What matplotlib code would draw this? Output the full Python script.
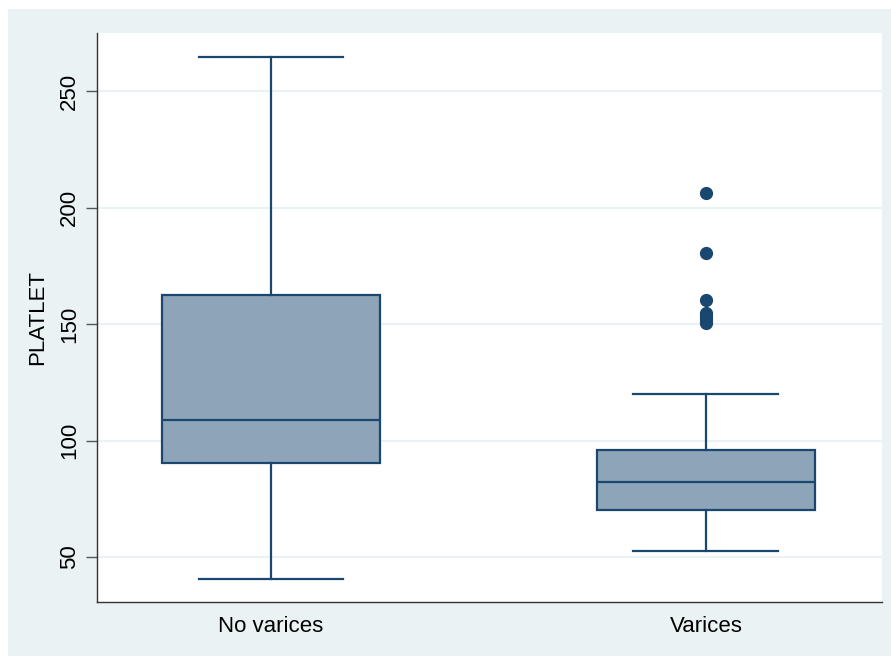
import matplotlib
matplotlib.use("Agg")
import matplotlib.pyplot as plt
import matplotlib.patches as mpatches

plt.rcParams['font.family'] = ['Liberation Sans', 'DejaVu Sans']

# box statistics
groups = ['No varices', 'Varices']
q1 = [90.3, 70.2]
med = [108.8, 82.2]
q3 = [162.4, 95.9]
whislo = [40.5, 52.5]
whishi = [264.8, 120.0]
outliers = [[], [206.2, 180.5, 160.3, 154.7, 153.5, 152.6, 151.5, 150.4]]

navy = '#1a476f'
fill = '#8ea5b9'
bg = '#eaf2f3'

fig = plt.figure(figsize=(8.91, 6.57), dpi=100)
fig.patch.set_facecolor('white')
# light outer panel of the graph region
fig.patches.append(mpatches.Rectangle((8 / 891, 1 - 656 / 657), 1 - 8 / 891, (656 - 9) / 657,
                                      transform=fig.transFigure, facecolor=bg,
                                      edgecolor='none', zorder=-10))

ax = fig.add_axes([97 / 891, 1 - 602 / 657, (882 - 97) / 891, (602 - 33) / 657])
ax.set_facecolor('white')

stats = []
for i in range(len(groups)):
    stats.append(dict(label=groups[i], q1=q1[i], med=med[i], q3=q3[i],
                      whislo=whislo[i], whishi=whishi[i], fliers=outliers[i]))

ax.bxp(stats, positions=[1, 2], widths=0.5, patch_artist=True, showfliers=True,
       boxprops=dict(facecolor=fill, edgecolor=navy, linewidth=1.6),
       medianprops=dict(color=navy, linewidth=1.6),
       whiskerprops=dict(color=navy, linewidth=1.6),
       capprops=dict(color=navy, linewidth=1.6),
       capwidths=0.333,
       flierprops=dict(marker='o', markerfacecolor=navy, markeredgecolor=navy,
                       markersize=8.5, linestyle='none'))

ax.set_xlim(0.6, 2.405)
ax.set_ylim(30.7, 274.9)
ax.set_yticks([50, 100, 150, 200, 250])
ax.yaxis.grid(True, color=bg, linewidth=1.5, zorder=0)
ax.set_axisbelow(True)

for s in ['top', 'right']:
    ax.spines[s].set_visible(False)
for s in ['left', 'bottom']:
    ax.spines[s].set_color('#333333')
    ax.spines[s].set_linewidth(1.0)

ax.tick_params(axis='y', length=8, width=1, color='#555555', labelsize=16, pad=4)
ax.tick_params(axis='x', length=0, labelsize=16, pad=10)
for lab in ax.get_yticklabels():
    lab.set_rotation(90)
    lab.set_va('center')
ax.set_ylabel('PLATLET', fontsize=16, labelpad=8)

fig.savefig('out.png', dpi=100, facecolor='white')
